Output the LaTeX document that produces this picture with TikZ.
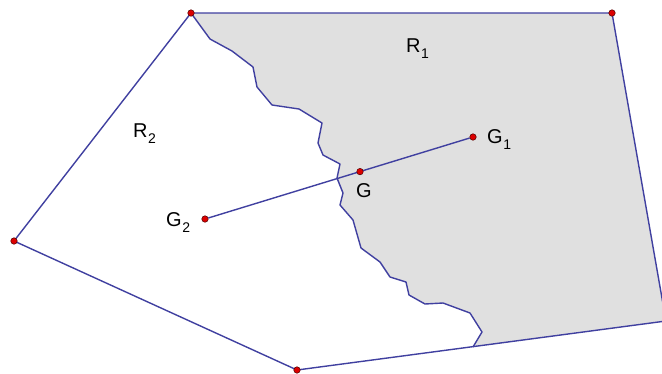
\documentclass[tikz,border=0pt]{standalone}
\usepackage{fontspec}
\setmainfont{Liberation Sans}
\definecolor{edgeblue}{RGB}{64,64,160}
\definecolor{regiongray}{RGB}{224,224,224}
\definecolor{ptred}{RGB}{220,0,0}
\newcommand{\lbl}[2]{#1\kern0.5pt\raisebox{-6.5pt}{\fontsize{14}{14}\selectfont #2}}
\tikzset{
  edge/.style={draw=edgeblue, line width=1.4pt, line join=round},
  ptdot/.style={circle, fill=ptred, draw=black!70!red, line width=0.5pt, inner sep=0pt, minimum size=6.5pt},
  txt/.style={anchor=base west, inner sep=0pt, font=\fontsize{20}{20}\selectfont}
}
\begin{document}
\begin{tikzpicture}[x=1pt,y=-1pt]
\useasboundingbox (0,0) rectangle (662,373);
\clip (0,0) rectangle (662,373);
% vertices
\coordinate (A) at (191,13);
\coordinate (B) at (612,13);
\coordinate (C) at (666,321);
\coordinate (D) at (297,370);
\coordinate (E) at (14,241);
\coordinate (F) at (473,347);
% region R1
\fill[regiongray] (A) -- (B) -- (C) -- (F)
  -- (482,332) -- (470,313) -- (443,303) -- (425,304) -- (409,295) -- (406,282)
  -- (390,277) -- (380,262) -- (361,248) -- (353,220) -- (340,205) -- (343,193)
  -- (337,178) -- (340,164) -- (323,155) -- (318,143) -- (322,123) -- (299,109)
  -- (272,105) -- (257,87) -- (253,67) -- (232,51) -- (210,39) -- cycle;
% jagged boundary
\draw[edge] (A) -- (210,39) -- (232,51) -- (253,67) -- (257,87) -- (272,105)
  -- (299,109) -- (322,123) -- (318,143) -- (323,155) -- (340,164) -- (337,178)
  -- (343,193) -- (340,205) -- (353,220) -- (361,248) -- (380,262) -- (390,277)
  -- (406,282) -- (409,295) -- (425,304) -- (443,303) -- (470,313) -- (482,332)
  -- (F);
% outer polygon
\draw[edge] (A) -- (B) -- (C) -- (D) -- (E) -- cycle;
% points G
\node[ptdot] (G2) at (205,219) {};
\node[ptdot] (G1) at (473,137) {};
\draw[edge] (G2) -- (G1);
\node[ptdot] (G) at (360,171.6) {};
\node[ptdot] (Ad) at (A) {};
\node[ptdot] (Bd) at (B) {};
\node[ptdot] (Dd) at (D) {};
\node[ptdot] (Ed) at (E) {};
% labels
\node[txt] (lR1) at (406,52) {\lbl{R}{1}};
\node[txt] (lR2) at (133,137) {\lbl{R}{2}};
\node[txt] (lG1) at (487,143) {\lbl{G}{1}};
\node[txt] (lG) at (356,197) {G};
\node[txt] (lG2) at (166,226) {\lbl{G}{2}};
\end{tikzpicture}
\end{document}
